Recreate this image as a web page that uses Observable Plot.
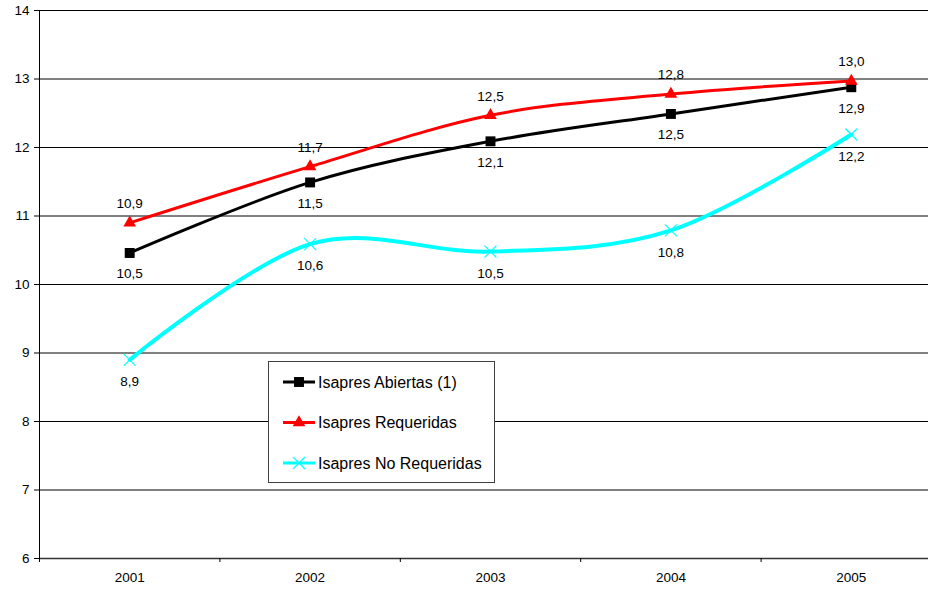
<!DOCTYPE html>
<html>
<head>
<meta charset="utf-8">
<script src="https://cdn.jsdelivr.net/npm/d3@7"></script>
<script src="https://cdn.jsdelivr.net/npm/@observablehq/plot@0.6"></script>
<style>
  body { margin: 0; background: #fff; }
  #chart { position: relative; width: 928px; height: 590px; font-family: "Liberation Sans", Arial, sans-serif; }
  #legend { position: absolute; left: 268px; top: 361px; width: 227px; height: 122px; box-sizing: border-box; border: 1px solid #404040; background: #fff; }
  #legend svg { display: block; }
</style>
</head>
<body>
<div id="chart"></div>
<script>
// Years on the horizontal axis
const years = [2001, 2002, 2003, 2004, 2005];

// One array per series
const abiertas = [10.46, 11.49, 12.09, 12.49, 12.88];
const requeridas = [10.9, 11.72, 12.47, 12.78, 12.97];
const noRequeridas = [8.9, 10.59, 10.48, 10.79, 12.19];

// Series names, colours and marker symbols
const seriesNames = ["Isapres Abiertas (1)", "Isapres Requeridas", "Isapres No Requeridas"];
const seriesColors = ["#000000", "#ff0000", "#00ffff"];
const seriesSymbols = ["square", "triangle", "times"];

// Value axis ticks
const yTicks = [6, 7, 8, 9, 10, 11, 12, 13, 14];
// Category separators on the horizontal axis
const xSeparators = [2000.5, 2001.5, 2002.5, 2003.5, 2004.5];

const fmt = v => (Math.round(v * 10) / 10).toFixed(1).replace(".", ",");
const toRows = (vals, k) => years.map((year, i) => ({ year, value: vals[i], name: seriesNames[k] }));

const rowsA = toRows(abiertas, 0);
const rowsR = toRows(requeridas, 1);
const rowsN = toRows(noRequeridas, 2);

const symbolR = { square: 5.6, triangle: 4.7, times: 5.5 };
const fontFamily = "'Liberation Sans', Arial, sans-serif";
const labelSize = 13.5;

const plot = Plot.plot({
  width: 928,
  height: 590,
  marginLeft: 39,
  marginRight: 0,
  marginTop: 10,
  marginBottom: 32,
  style: { fontFamily, fontSize: labelSize + "px", color: "#000", background: "#fff" },
  x: { type: "linear", domain: [2000.5, 2005.5], range: [39, 941] },
  y: { domain: [6, 14], range: [558, 10] },
  marks: [
    // horizontal gridlines
    Plot.ruleY(yTicks.filter(t => t > 6), { stroke: "#000", strokeWidth: 1 }),
    // axis lines
    Plot.ruleY([6], { stroke: "#333", strokeWidth: 1.5 }),
    Plot.ruleX([2000.5], { y1: 6, y2: 14, stroke: "#000", strokeWidth: 1 }),
    Plot.axisY({ ticks: yTicks, tickSize: 5, tickPadding: 5, tickFormat: d => String(d), label: null, fontSize: labelSize }),
    Plot.axisX({ ticks: xSeparators, tickSize: 4, tickFormat: () => "", label: null }),
    Plot.axisX({ ticks: years, tickSize: 0, tickPadding: 14, tickFormat: d => String(d), label: null, fontSize: labelSize }),

    // smoothed series lines
    Plot.line(rowsN, { x: "year", y: "value", stroke: seriesColors[2], strokeWidth: 4, curve: "cardinal", tension: 0 }),
    Plot.line(rowsA, { x: "year", y: "value", stroke: seriesColors[0], strokeWidth: 3, curve: "cardinal", tension: 0 }),
    Plot.line(rowsR, { x: "year", y: "value", stroke: seriesColors[1], strokeWidth: 3, curve: "cardinal", tension: 0 }),

    // markers
    Plot.dot(rowsA, { x: "year", y: "value", symbol: () => "square", r: symbolR.square, fill: seriesColors[0], stroke: "none" }),
    Plot.dot(rowsR, { x: "year", y: "value", symbol: () => "triangle", r: symbolR.triangle, fill: seriesColors[1], stroke: "none" }),
    Plot.dot(rowsN, { x: "year", y: "value", symbol: () => "times", r: symbolR.times, stroke: seriesColors[2], strokeWidth: 1.2, fill: "none" }),

    // value labels
    Plot.text(rowsR, { x: "year", y: "value", text: d => fmt(d.value), dy: -19, fontSize: labelSize, fill: "#000" }),
    Plot.text(rowsA, { x: "year", y: "value", text: d => fmt(d.value), dy: 21, fontSize: labelSize, fill: "#000" }),
    Plot.text(rowsN, { x: "year", y: "value", text: d => fmt(d.value), dy: 22, fontSize: labelSize, fill: "#000" })
  ]
});

const chart = document.getElementById("chart");
chart.appendChild(plot);

// Legend box drawn inside the plotting area
const legend = document.createElement("div");
legend.id = "legend";
chart.appendChild(legend);

const symbolTypes = { square: d3.symbolSquare, triangle: d3.symbolTriangle, times: d3.symbolTimes };
const lsvg = d3.create("svg").attr("width", 225).attr("height", 120);
seriesNames.forEach((name, i) => {
  const cy = 20 + i * 40.5;
  const g = lsvg.append("g");
  g.append("line")
    .attr("x1", 14).attr("x2", 46).attr("y1", cy).attr("y2", cy)
    .attr("stroke", seriesColors[i]).attr("stroke-width", 3);
  const sym = seriesSymbols[i];
  const r = symbolR[sym];
  const path = g.append("path")
    .attr("transform", `translate(30,${cy})`)
    .attr("d", d3.symbol(symbolTypes[sym], Math.PI * r * r)());
  if (sym === "times") path.attr("fill", "none").attr("stroke", seriesColors[i]).attr("stroke-width", 1.2);
  else path.attr("fill", seriesColors[i]);
  g.append("text")
    .attr("x", 49).attr("y", cy).attr("dy", "0.35em")
    .attr("font-family", fontFamily).attr("font-size", 16)
    .attr("fill", "#000")
    .text(name);
});
legend.appendChild(lsvg.node());
</script>
</body>
</html>
